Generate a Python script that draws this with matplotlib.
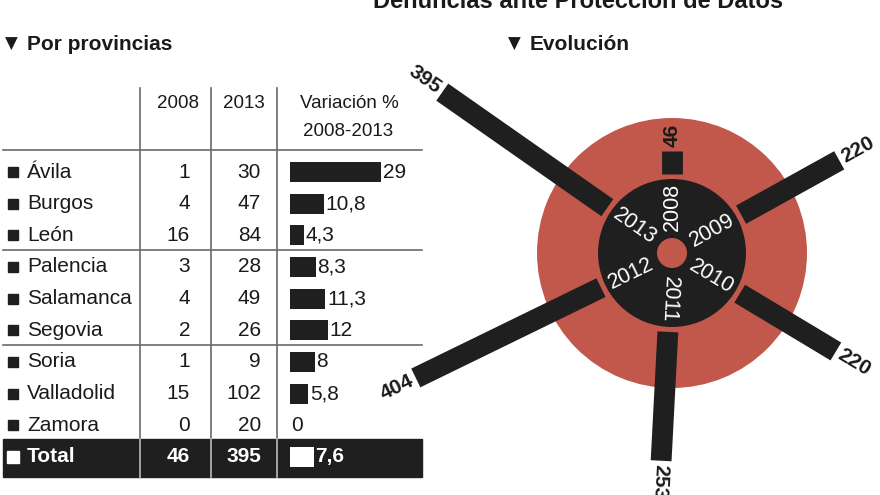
import numpy as np
import matplotlib
matplotlib.use("Agg")
import matplotlib.pyplot as plt
from matplotlib.patches import Rectangle

plt.rcParams['font.family'] = ['Liberation Sans', 'DejaVu Sans']

# --- data ---
provinces = ['Ávila', 'Burgos', 'León', 'Palencia', 'Salamanca', 'Segovia',
             'Soria', 'Valladolid', 'Zamora']
d2008 = [1, 4, 16, 3, 4, 2, 1, 15, 0]
d2013 = [30, 47, 84, 28, 49, 26, 9, 102, 20]
variation = [29, 10.8, 4.3, 8.3, 11.3, 12, 8, 5.8, 0]
total_2008 = 46
total_2013 = 395
total_variation = 7.6

years = ['2008', '2009', '2010', '2011', '2012', '2013']
denuncias = [46, 220, 220, 253, 404, 395]
angles_deg = [90, 29, -31, -93, -154, 145]   # direction of each spoke

BLACK = '#1f1f1f'
RED = '#c1584b'
TXT = '#1a1a1a'
LINE = '#6a6a6a'
FS = 15


def fmt(v):
    return f'{v:g}'.replace('.', ',')


fig = plt.figure(figsize=(8.8, 4.95), dpi=100)

# pixel-based axes for the table side
axt = fig.add_axes([0, 0, 1, 1])
axt.set_xlim(0, 880)
axt.set_ylim(495, 0)
axt.axis('off')

axt.text(578, 8, 'Denuncias ante Protección de Datos', fontsize=17,
         fontweight='bold', ha='center', va='baseline', color=TXT)

for x_tri, x_txt, label in [(5, 27, 'Por provincias'), (508, 530, 'Evolución')]:
    axt.text(x_tri, 44, '▼', family='DejaVu Sans', fontsize=12, ha='left',
             va='center', color=TXT)
    axt.text(x_txt, 44, label, fontsize=15, fontweight='bold', ha='left',
             va='center', color=TXT)

# table header
axt.text(178, 104, '2008', fontsize=13.5, ha='center', va='center', color=TXT)
axt.text(244, 104, '2013', fontsize=13.5, ha='center', va='center', color=TXT)
axt.text(349, 103, 'Variación %', fontsize=13.5, ha='center', va='center', color=TXT)
axt.text(348, 132, '2008-2013', fontsize=13.5, ha='center', va='center', color=TXT)

ROW_Y0, ROW_DY = 172, 31.65
PX_PER_PCT = 3.14
BAR_X0 = 290
rows_y = ROW_Y0 + ROW_DY * np.arange(len(provinces) + 1)
total_y = rows_y[-1]

# grid lines
for y in [150, 250, 345]:
    axt.plot([3, 422], [y, y], color=LINE, lw=1.2)
for x in [140, 211, 277]:
    axt.plot([x, x], [88, 439], color=LINE, lw=1.2)

# rows
axt.plot(np.full(len(provinces), 12.5), rows_y[:-1], 's', ms=7.5, color=BLACK)
for y, name, a, b, v in zip(rows_y, provinces, d2008, d2013, variation):
    axt.text(27, y, name, fontsize=FS, ha='left', va='center', color=TXT)
    axt.text(190, y, str(a), fontsize=FS, ha='right', va='center', color=TXT)
    axt.text(261, y, str(b), fontsize=FS, ha='right', va='center', color=TXT)
    axt.text(BAR_X0 + v * PX_PER_PCT + 1.5, y, fmt(v), fontsize=FS,
             ha='left', va='center', color=TXT)
axt.barh(rows_y[:-1], np.array(variation) * PX_PER_PCT, left=BAR_X0,
         height=20, color=BLACK)

# total row
axt.add_patch(Rectangle((3, 439), 419, 38, color=BLACK, zorder=3))
for x in [140, 211, 277]:
    axt.plot([x, x], [439, 477], color='#bbbbbb', lw=1.2, zorder=4)
axt.plot([12.5], [total_y], 's', ms=8, color='white', zorder=5)
axt.text(27, total_y, 'Total', fontsize=FS, fontweight='bold', ha='left',
         va='center', color='white', zorder=5)
axt.text(190, total_y, str(total_2008), fontsize=FS, fontweight='bold',
         ha='right', va='center', color='white', zorder=5)
axt.text(261, total_y, str(total_2013), fontsize=FS, fontweight='bold',
         ha='right', va='center', color='white', zorder=5)
axt.barh([total_y], [total_variation * PX_PER_PCT], left=BAR_X0, height=20,
         color='white', zorder=5)
axt.text(BAR_X0 + total_variation * PX_PER_PCT + 1.5, total_y,
         fmt(total_variation), fontsize=FS, fontweight='bold', ha='left',
         va='center', color='white', zorder=5)

# --- radial chart ---
CX, CY, S = 672, 253, 300        # centre and half-size in pixels
axp = fig.add_axes([(CX - S) / 880, (495 - CY - S) / 495, 2 * S / 880,
                    2 * S / 495], projection='polar')
axp.set_ylim(0, S)
axp.axis('off')

R_RED, R_BLACK, R_HOLE = 135, 74, 15
R0, K = 79, 0.51                  # spoke start radius, px per denuncia

axp.bar(0, R_RED, width=2 * np.pi, bottom=0, color=RED, zorder=1)
axp.bar(0, R_BLACK, width=2 * np.pi, bottom=0, color=BLACK, zorder=2)
axp.bar(0, R_HOLE, width=2 * np.pi, bottom=0, color=RED, zorder=3)

for year, val, ang in zip(years, denuncias, angles_deg):
    th = np.deg2rad(ang)
    r_end = R0 + val * K
    axp.plot([th, th], [R0, r_end], color=BLACK, lw=15,
             solid_capstyle='butt', clip_on=False, zorder=4)
    if -100 < ang <= 90:
        rot, ha = ang, 'left'
    else:
        rot, ha = (ang - 180 if ang > 0 else ang + 180), 'right'
    axp.text(th, r_end + 4, str(val), fontsize=15, fontweight='bold',
             rotation=rot, rotation_mode='anchor', ha=ha, va='center',
             color=TXT, clip_on=False, zorder=5)
    axp.text(th, 46, year, fontsize=15.5, rotation=rot, rotation_mode='anchor',
             ha='center', va='center', color='white', zorder=5)

fig.savefig('out.png', dpi=100)
